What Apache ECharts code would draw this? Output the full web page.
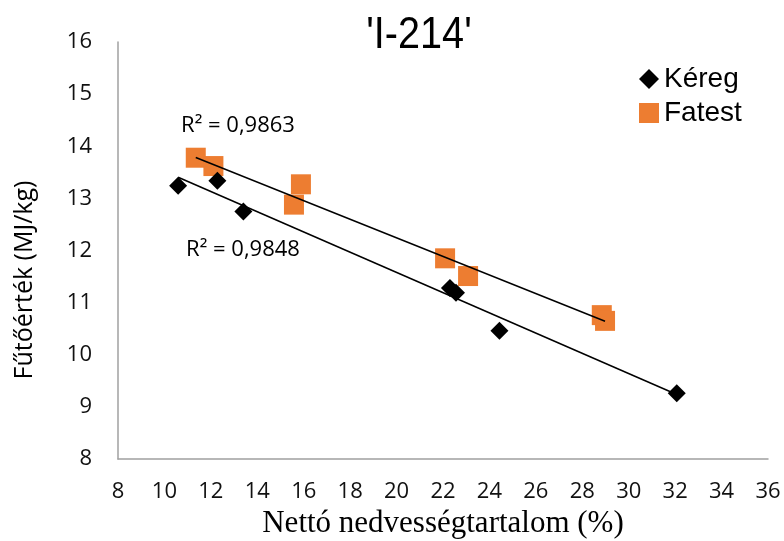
<!DOCTYPE html>
<html><head><meta charset="utf-8">
<script src="https://cdn.jsdelivr.net/npm/echarts@6/dist/echarts.min.js"></script>
<style>html,body{margin:0;padding:0;background:#fff}#c{width:784px;height:541px}</style>
</head><body><div id="c"></div>
<script>
const keregX = [10.59, 12.28, 13.40, 22.30, 22.56, 24.43, 32.07];
const keregY = [13.24, 13.34, 12.75, 11.28, 11.19, 10.46, 9.26];
const fatestX = [11.35, 12.11, 15.88, 15.58, 22.09, 23.08, 28.84, 28.98];
const fatestY = [13.78, 13.62, 13.27, 12.88, 11.85, 11.51, 10.76, 10.65];
const xTicks = [8, 10, 12, 14, 16, 18, 20, 22, 24, 26, 28, 30, 32, 34, 36];
const yTicks = [8, 9, 10, 11, 12, 13, 14, 15, 16];
const r2Labels = ['R² = 0,9863', 'R² = 0,9848'];
const titleText = "'I-214'";
const seriesNames = ['Kéreg', 'Fatest'];

function fit(xs, ys) {
  const n = xs.length;
  const mx = xs.reduce((a, b) => a + b, 0) / n;
  const my = ys.reduce((a, b) => a + b, 0) / n;
  let sxy = 0, sxx = 0;
  for (let i = 0; i < n; i++) { sxy += (xs[i] - mx) * (ys[i] - my); sxx += (xs[i] - mx) ** 2; }
  const b = sxy / sxx, a = my - b * mx;
  const x0 = Math.min(...xs), x1 = Math.max(...xs);
  return [[x0, a + b * x0], [x1, a + b * x1]];
}
const zip = (xs, ys) => xs.map((x, i) => [x, ys[i]]);

const chart = echarts.init(document.getElementById('c'));
chart.setOption({
  animation: false,
  grid: {left: 118, right: 16, top: 42, bottom: 82},
  xAxis: {
    type: 'value', min: xTicks[0], max: xTicks[xTicks.length - 1], interval: 2,
    axisLine: {lineStyle: {color: '#a0a0a0', width: 1.5}}, axisTick: {show: false},
    splitLine: {show: false},
    axisLabel: {margin: 22, fontFamily: 'Open Sans', fontSize: 22, color: '#111'}
  },
  yAxis: {
    type: 'value', min: yTicks[0], max: yTicks[yTicks.length - 1], interval: 1,
    axisLine: {show: true, lineStyle: {color: '#a0a0a0', width: 1.5}}, axisTick: {show: false},
    splitLine: {show: false},
    axisLabel: {margin: 26, fontFamily: 'Open Sans', fontSize: 22, color: '#111'}
  },
  legend: {
    data: seriesNames, orient: 'vertical', left: 634, top: 60,
    itemWidth: 20, itemHeight: 20, itemGap: 6,
    textStyle: {fontFamily: 'Liberation Sans', fontSize: 28, color: '#000'}
  },
  graphic: [
    {type: 'text', x: 419, y: 36, scaleX: 0.88, style: {text: titleText, font: '45px "Liberation Sans"', fill: '#000', align: 'center', verticalAlign: 'middle'}},
    {type: 'text', x: 443, y: 524, style: {text: 'Nettó nedvességtartalom (%)', font: '31px "Liberation Serif"', fill: '#000', align: 'center', verticalAlign: 'middle'}},
    {type: 'text', x: 25, y: 280, rotation: Math.PI / 2, style: {text: 'Fűtőérték (MJ/kg)', font: '25px "Open Sans"', fill: '#000', align: 'center', verticalAlign: 'middle'}},
    {type: 'text', x: 238, y: 126, style: {text: r2Labels[0], font: '22px "Open Sans"', fill: '#000', align: 'center', verticalAlign: 'middle'}},
    {type: 'text', x: 243, y: 250, style: {text: r2Labels[1], font: '22px "Open Sans"', fill: '#000', align: 'center', verticalAlign: 'middle'}}
  ],
  series: [
    {name: seriesNames[0], type: 'scatter', symbol: 'diamond', symbolSize: 18, itemStyle: {color: '#000', opacity: 1}, data: zip(keregX, keregY), z: 3},
    {name: seriesNames[1], type: 'scatter', symbol: 'rect', symbolSize: 20, itemStyle: {color: '#ED7D31', opacity: 1}, data: zip(fatestX, fatestY), z: 2},
    {name: 'trendKereg', type: 'line', showSymbol: false, symbol: 'none', data: fit(keregX, keregY), lineStyle: {color: '#000', width: 1.5}, z: 4},
    {name: 'trendFatest', type: 'line', showSymbol: false, symbol: 'none', data: fit(fatestX, fatestY), lineStyle: {color: '#000', width: 1.5}, z: 4}
  ]
});
</script></body></html>
